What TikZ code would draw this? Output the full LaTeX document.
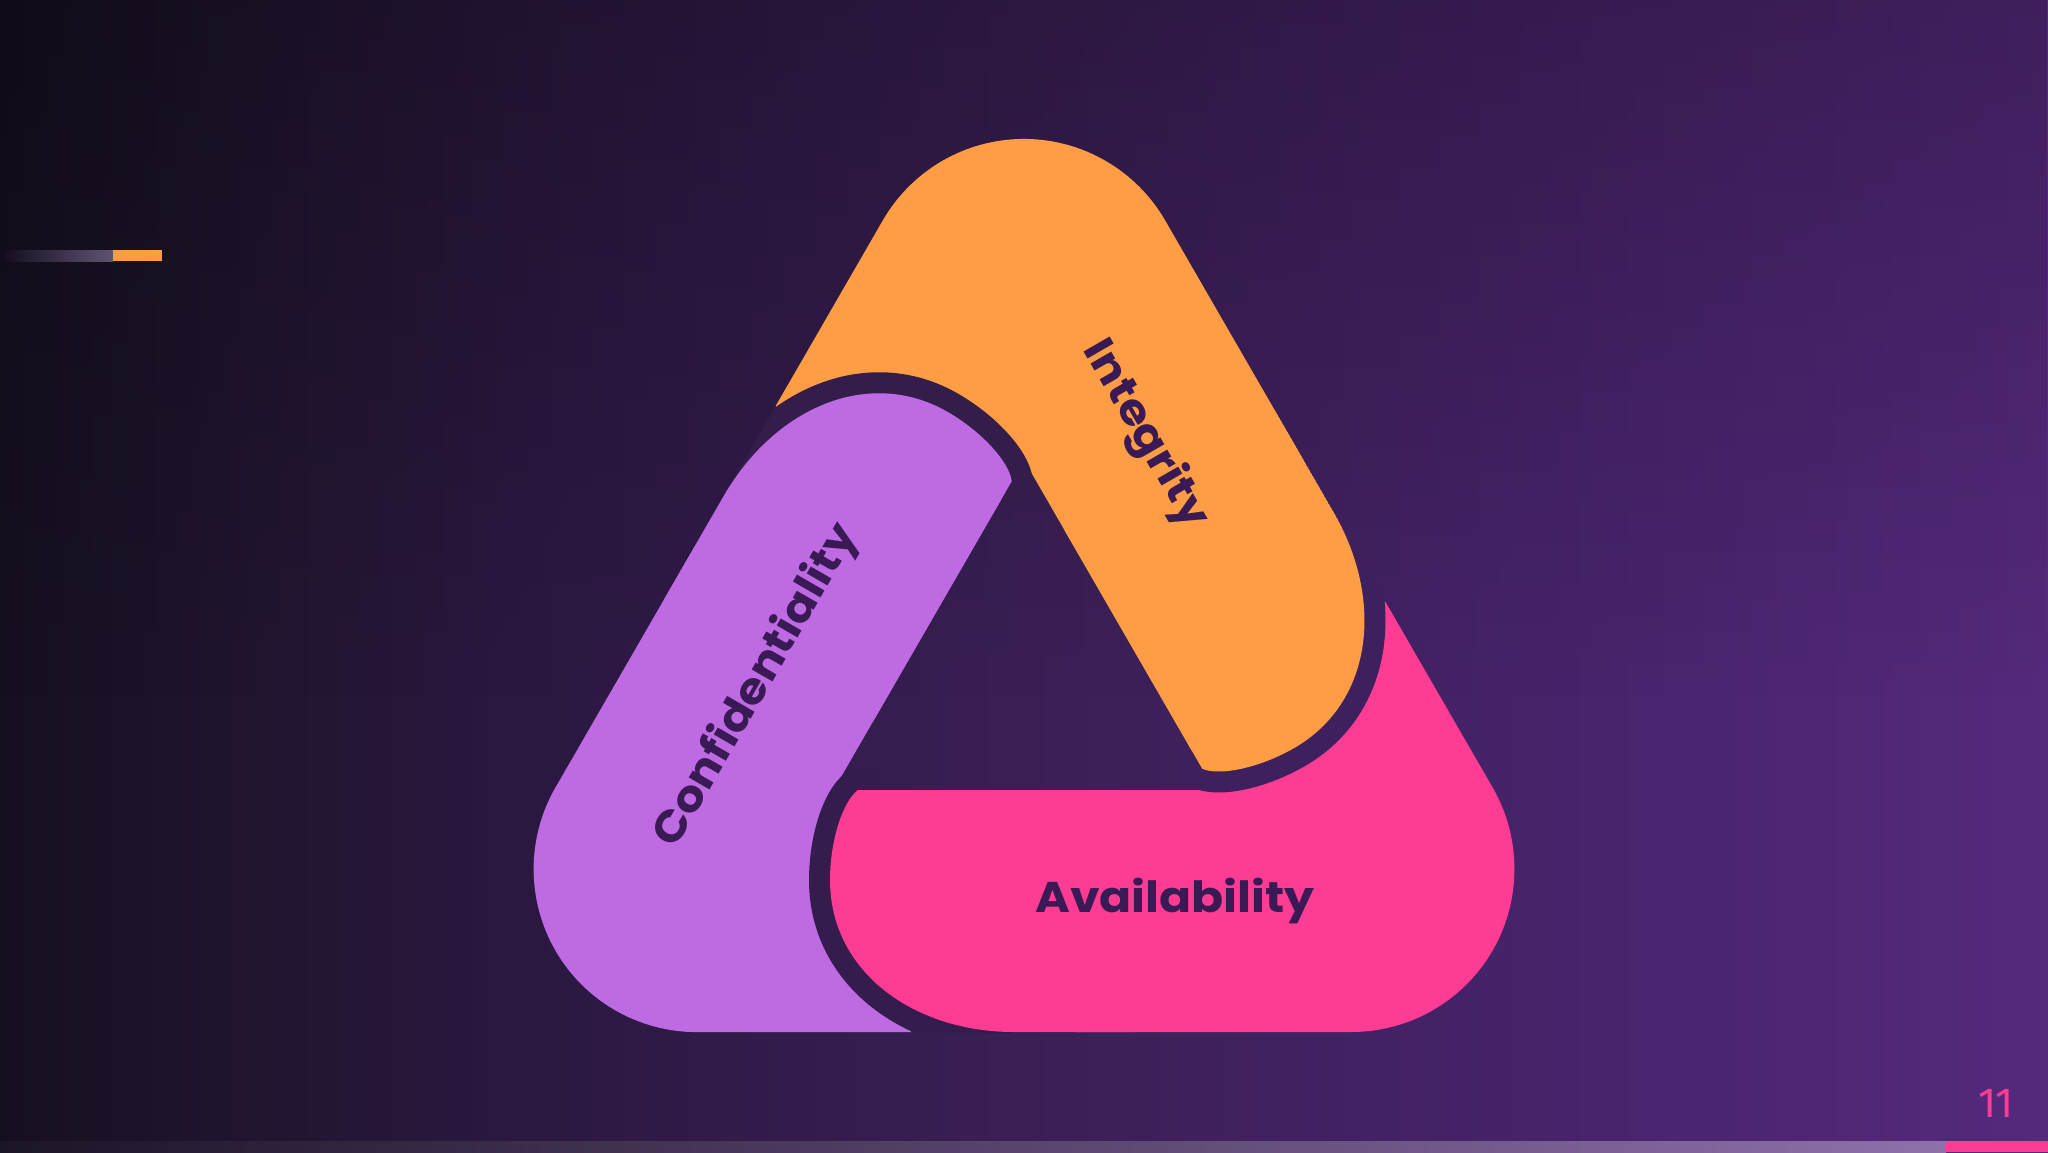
\documentclass[tikz,border=0pt]{standalone}
\usepackage{fontspec}
\usetikzlibrary{fadings}
\newfontfamily\lblfont{Poppins}
\newfontfamily\numfont{Fira Sans}
\definecolor{corange}{HTML}{FF9D45}
\definecolor{cpurple}{HTML}{BE6AE2}
\definecolor{cpink}{HTML}{FF3C94}
\definecolor{ctext}{HTML}{3A1A54}
\definecolor{olpink}{HTML}{341C4C}
\definecolor{olpurple}{HTML}{341C4B}
\definecolor{olorange}{HTML}{3E205E}
\definecolor{bga}{HTML}{160F20}
\definecolor{bgb}{HTML}{211530}
\definecolor{bgc}{HTML}{2A1840}
\definecolor{bgd}{HTML}{3A1F55}
\definecolor{bge}{HTML}{47236A}
\definecolor{bgh}{HTML}{55297C}
\definecolor{accgray}{HTML}{5E5470}
\definecolor{barl}{HTML}{1C1427}
\definecolor{barm}{HTML}{644A83}
\definecolor{barr}{HTML}{8E70AB}
\pgfdeclarehorizontalshading{bgshade}{100bp}{color(0bp)=(bga); color(25bp)=(bga); color(31.5bp)=(bgb); color(37.5bp)=(bgc); color(50bp)=(bgd); color(62.5bp)=(bge); color(75bp)=(bgh); color(100bp)=(bgh)}
\tikzfading[name=topfade, top color=transparent!75, bottom color=transparent!100]
\newcommand\bandpath{(-166,110) .. controls (-181,121) and (-194,160) .. (-194,200) .. controls (-194,292) and (-110,352) .. (-10,352) -- (327.4,352) .. controls (385.6,352) and (439.5,320.9) .. (468.6,270.5) .. controls (497.7,220.1) and (497.7,157.9) .. (468.6,107.5) -- (361.5,-78) -- (250,-60) -- (190.5,110) -- cycle}
\newcommand\tipcurve{(-166,110) .. controls (-181,121) and (-194,160) .. (-194,200) .. controls (-194,292) and (-110,352) .. (-10,352) -- (30,352)}
\newcommand\wide[1]{\scalebox{1.1}[1]{#1}}
\tikzset{lbl/.style={text=ctext, font=\lblfont\bfseries\fontsize{21.5}{24}\selectfont, inner sep=0pt}}
\begin{document}
\begin{tikzpicture}[x=0.5pt,y=-0.5pt]
\useasboundingbox (0,0) rectangle (2048,1152);
\shade[shading=bgshade] (0,0) rectangle (2048,1152);
\fill[black, path fading=topfade] (0,0) rectangle (2048,700);
% bands, base fills
\foreach \ang/\col in {0/cpink,-120/cpurple,120/corange}{
  \begin{scope}[shift={(1024,680)},rotate=\ang]
    \fill[\col] \bandpath;
  \end{scope}}
% rounded ends with dark outline, over the next band
\foreach \ang/\col/\oc in {0/cpink/olpink,-120/cpurple/olpurple,120/corange/olorange}{
  \begin{scope}[shift={(1024,680)},rotate=\ang]
    \clip (-320,-10) -- (110,-10) -- (110,352) -- (-320,352) -- cycle;
    \draw[\oc, line width=21pt, line join=round, line cap=round] \tipcurve;
    \fill[\col] \bandpath;
  \end{scope}}
% labels
\node[lbl] (avail) at (1175,901) {\wide{Availability}};
\node[lbl, rotate=60] (conf) at (757,686) {\wide{Confidentiality}};
\node[lbl, rotate=-60] (integ) at (1145,435) {\wide{Integrity}};
% accent line top left
\shade[left color=bga, right color=accgray] (5,250) rectangle (113,261);
\fill[corange] (113,250) rectangle (162,261);
% bottom bar
\shade[left color=barl, middle color=barm, right color=barr] (0,1141) rectangle (1946,1152);
\fill[cpink] (1946,1141) rectangle (2048,1152);
% page number
\node[text=cpink, font=\numfont\fontsize{21}{21}\selectfont, anchor=base, inner sep=0pt] (pagenum) at (1996,1117) {11};
\end{tikzpicture}
\end{document}
